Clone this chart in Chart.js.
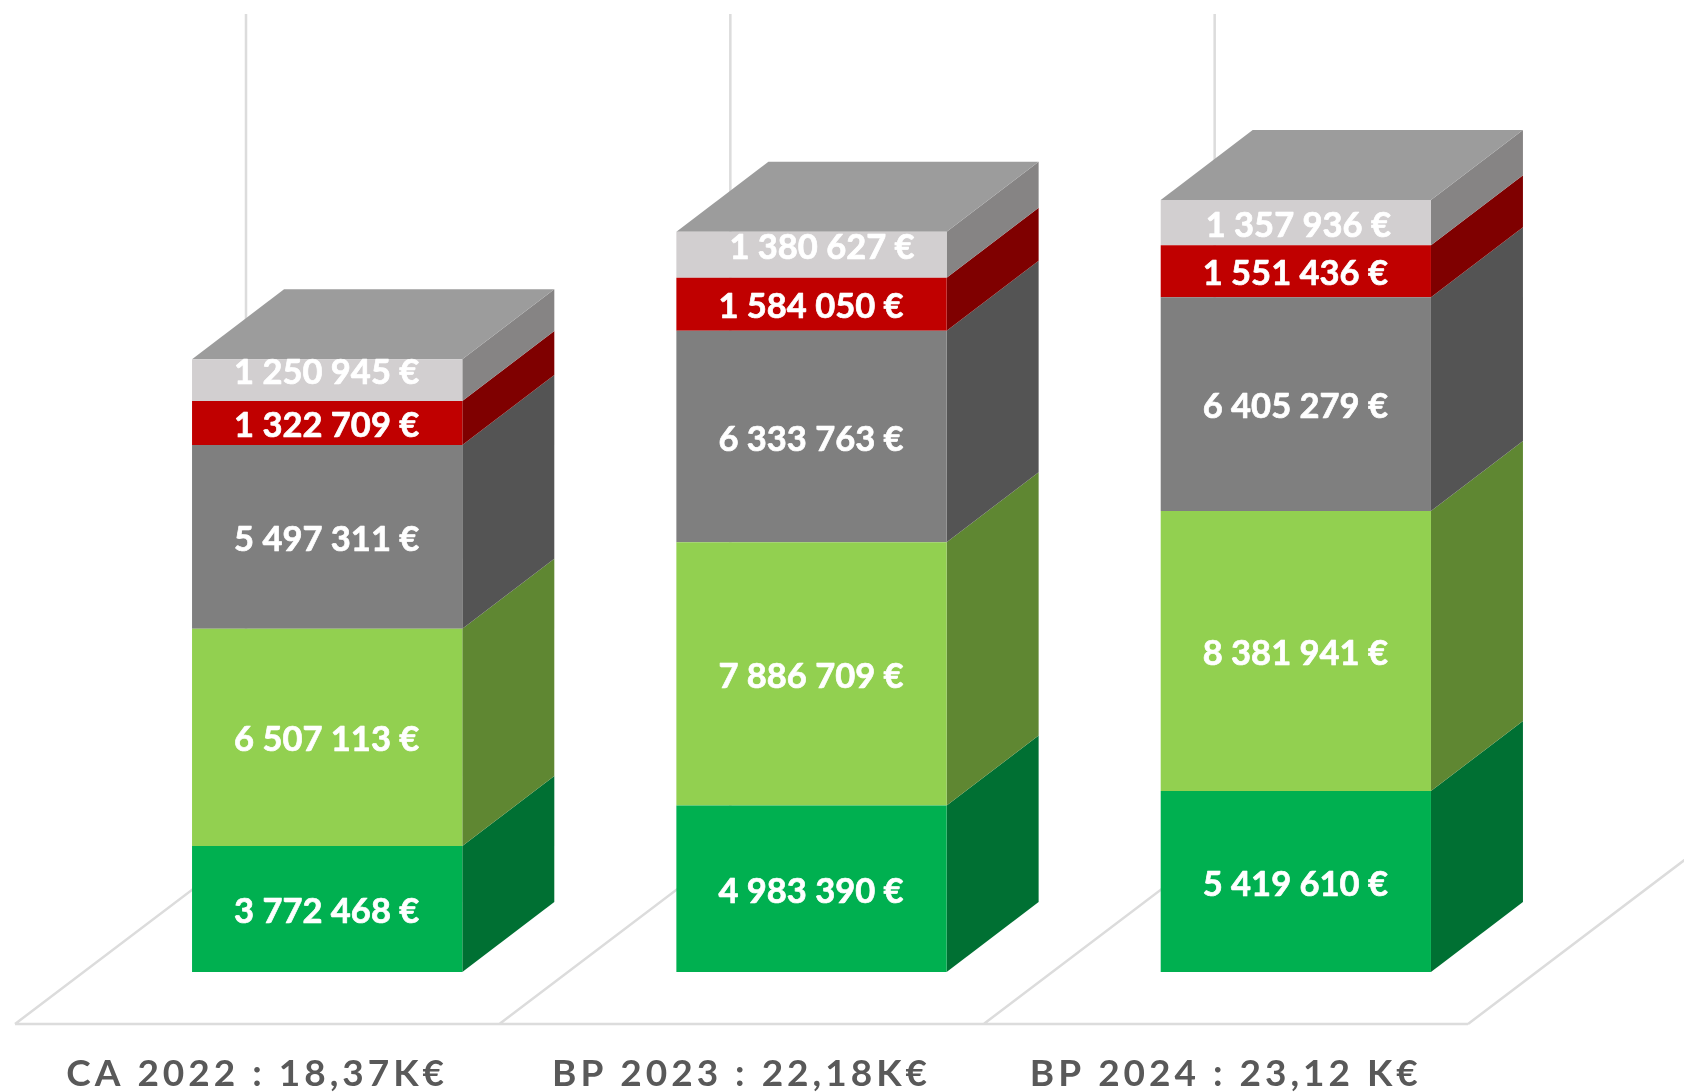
<!DOCTYPE html>
<html><head><meta charset="utf-8">
<style>html,body{margin:0;padding:0;background:#fff}canvas{display:block}</style>
<script src="https://cdn.jsdelivr.net/npm/chart.js@4/dist/chart.umd.min.js"></script>
</head><body><canvas id="c" width="1684" height="1092"></canvas>
<script>
const categories = ['CA 2022 : 18,37K€', 'BP 2023 : 22,18K€', 'BP 2024 : 23,12 K€'];
const serieA = [3772468, 4983390, 5419610];
const serieB = [6507113, 7886709, 8381941];
const serieC = [5497311, 6333763, 6405279];
const serieD = [1322709, 1584050, 1551436];
const serieE = [1250945, 1380627, 1357936];
const frontColors = ['#00b050', '#92d050', '#7f7f7f', '#c00000', '#d2cfd0'];
const sideColors = ['#007033', '#5f8732', '#545454', '#7f0000', '#868484'];
const topColor = '#9c9c9c';
const lineColor = '#dcdcdc';
const topLabelShiftX = [0, 11, 3];
const topLabelShiftY = [-10, -10, 0];
const DX = 92, DY = 70, FLOOR_DX = 231, FLOOR_DY = 175, FLOOR_OUT = 70, FLOOR_DOWN = 52;
const valueFont = 'bold 34.5px Lato';

function fmt(v){ return String(v).replace(/\B(?=(\d{3})+$)/g,' ') + ' €'; }
function poly(ctx, pts, color){
  ctx.fillStyle = color; ctx.beginPath();
  pts.forEach((p,i)=> i ? ctx.lineTo(p[0],p[1]) : ctx.moveTo(p[0],p[1]));
  ctx.closePath(); ctx.fill();
}
const box3d = {
  id:'box3d',
  beforeDraw(chart){ chart.ctx.save(); chart.ctx.letterSpacing='4px'; },
  beforeDatasetsDraw(chart){
    const ctx = chart.ctx, a = chart.chartArea;
    ctx.letterSpacing='0px';
    const step = (a.right-a.left)/categories.length;
    const fy = a.bottom + FLOOR_DOWN;
    ctx.save();
    ctx.strokeStyle = lineColor; ctx.lineWidth = 2.5;
    ctx.beginPath();
    ctx.moveTo(a.left-FLOOR_OUT, fy); ctx.lineTo(a.left-FLOOR_OUT+step*categories.length, fy);
    for(let i=0;i<=categories.length;i++){
      const x = a.left-FLOOR_OUT+step*i;
      ctx.moveTo(x, fy); ctx.lineTo(x+FLOOR_DX, fy-FLOOR_DY);
      if(i<categories.length){ ctx.lineTo(x+FLOOR_DX, a.top-DY-1); }
    }
    ctx.stroke();
    categories.forEach((_,i)=>{
      chart.data.datasets.forEach((ds,d)=>{
        const b = chart.getDatasetMeta(d).data[i];
        const L=b.x-b.width/2, R=b.x+b.width/2;
        poly(ctx,[[R,b.y],[R+DX,b.y-DY],[R+DX,b.base-DY],[R,b.base]],sideColors[d]);
        if(d===chart.data.datasets.length-1){
          poly(ctx,[[L,b.y],[L+DX,b.y-DY],[R+DX,b.y-DY],[R,b.y]],topColor);
        }
      });
    });
    ctx.restore();
  },
  afterDatasetsDraw(chart){
    const ctx = chart.ctx;
    ctx.save();
    ctx.font = valueFont; ctx.fillStyle='#fff'; ctx.strokeStyle='#fff'; ctx.lineWidth=0.7; ctx.lineJoin='round';
    ctx.textAlign='center'; ctx.textBaseline='middle';
    const n = chart.data.datasets.length;
    chart.data.datasets.forEach((ds,d)=>{
      chart.getDatasetMeta(d).data.forEach((b,i)=>{
        const isTop = d===n-1;
        const x = b.x + (isTop?topLabelShiftX[i]:0) - 0.5;
        const y = (b.y+b.base)/2 + 3 + (isTop?topLabelShiftY[i]:0);
        ctx.fillText(fmt(ds.data[i]), x, y);
        ctx.strokeText(fmt(ds.data[i]), x, y);
      });
    });
    ctx.restore();
  },
  afterDraw(chart){ chart.ctx.restore(); }
};
new Chart(document.getElementById('c'),{
  type:'bar',
  data:{labels:categories,datasets:[serieA,serieB,serieC,serieD,serieE].map((data,i)=>({
    data,backgroundColor:frontColors[i],borderWidth:0,barPercentage:1,categoryPercentage:0.558
  }))},
  options:{
    responsive:false,animation:false,
    layout:{padding:{left:85,right:146,top:85,bottom:0}},
    plugins:{legend:{display:false},tooltip:{enabled:false},title:{display:false}},
    scales:{
      x:{stacked:true,border:{display:false},grid:{display:false,drawTicks:false},
        afterFit(s){ s.height=120; },
        ticks:{autoSkip:false,maxRotation:0,minRotation:0,padding:84,labelOffset:-70,color:'#595959',
          font:{family:'Lato',weight:'bold',size:37,lineHeight:1}}},
      y:{stacked:true,display:false,min:0,max:26560000}
    }
  },
  plugins:[box3d]
});
</script></body></html>
